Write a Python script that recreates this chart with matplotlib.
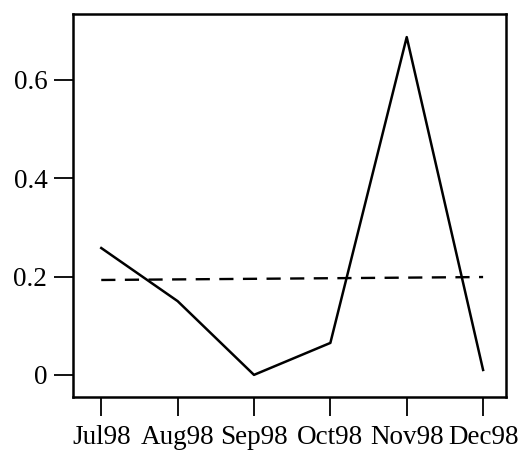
import matplotlib
matplotlib.use("Agg")
import matplotlib.pyplot as plt

months = ["Jul98", "Aug98", "Sep98", "Oct98", "Nov98", "Dec98"]
values = [0.258, 0.150, 0.0, 0.065, 0.687, 0.01]
trend = [0.193, 0.199]  # dashed reference line, at first and last month
yticks = [0, 0.2, 0.4, 0.6]
ytick_labels = ["0", "0.2", "0.4", "0.6"]

plt.rcParams['font.family'] = ['Liberation Serif', 'DejaVu Serif']

fig = plt.figure(figsize=(5.2, 4.51), dpi=100)
ax = fig.add_axes([73/520, 1 - 397/451, (506-73)/520, (397-14)/451])

x = list(range(len(months)))
ax.plot(x, values, color='black', linewidth=1.8)
ax.plot([x[0], x[-1]], trend, color='black', linewidth=1.7, linestyle=(0, (6, 4)))

ax.set_xlim(-0.37, 5.30)
ax.set_ylim(-0.045, 0.734)
ax.set_xticks(x)
ax.set_xticklabels(months)
ax.set_yticks(yticks)
ax.set_yticklabels(ytick_labels)
ax.tick_params(axis='both', direction='out', length=13.5, width=1.3, labelsize=19.5, colors='black')
ax.tick_params(axis='x', pad=7)
ax.tick_params(axis='y', pad=5)
for s in ax.spines.values():
    s.set_linewidth(1.8)

fig.savefig("out.png", dpi=100)
